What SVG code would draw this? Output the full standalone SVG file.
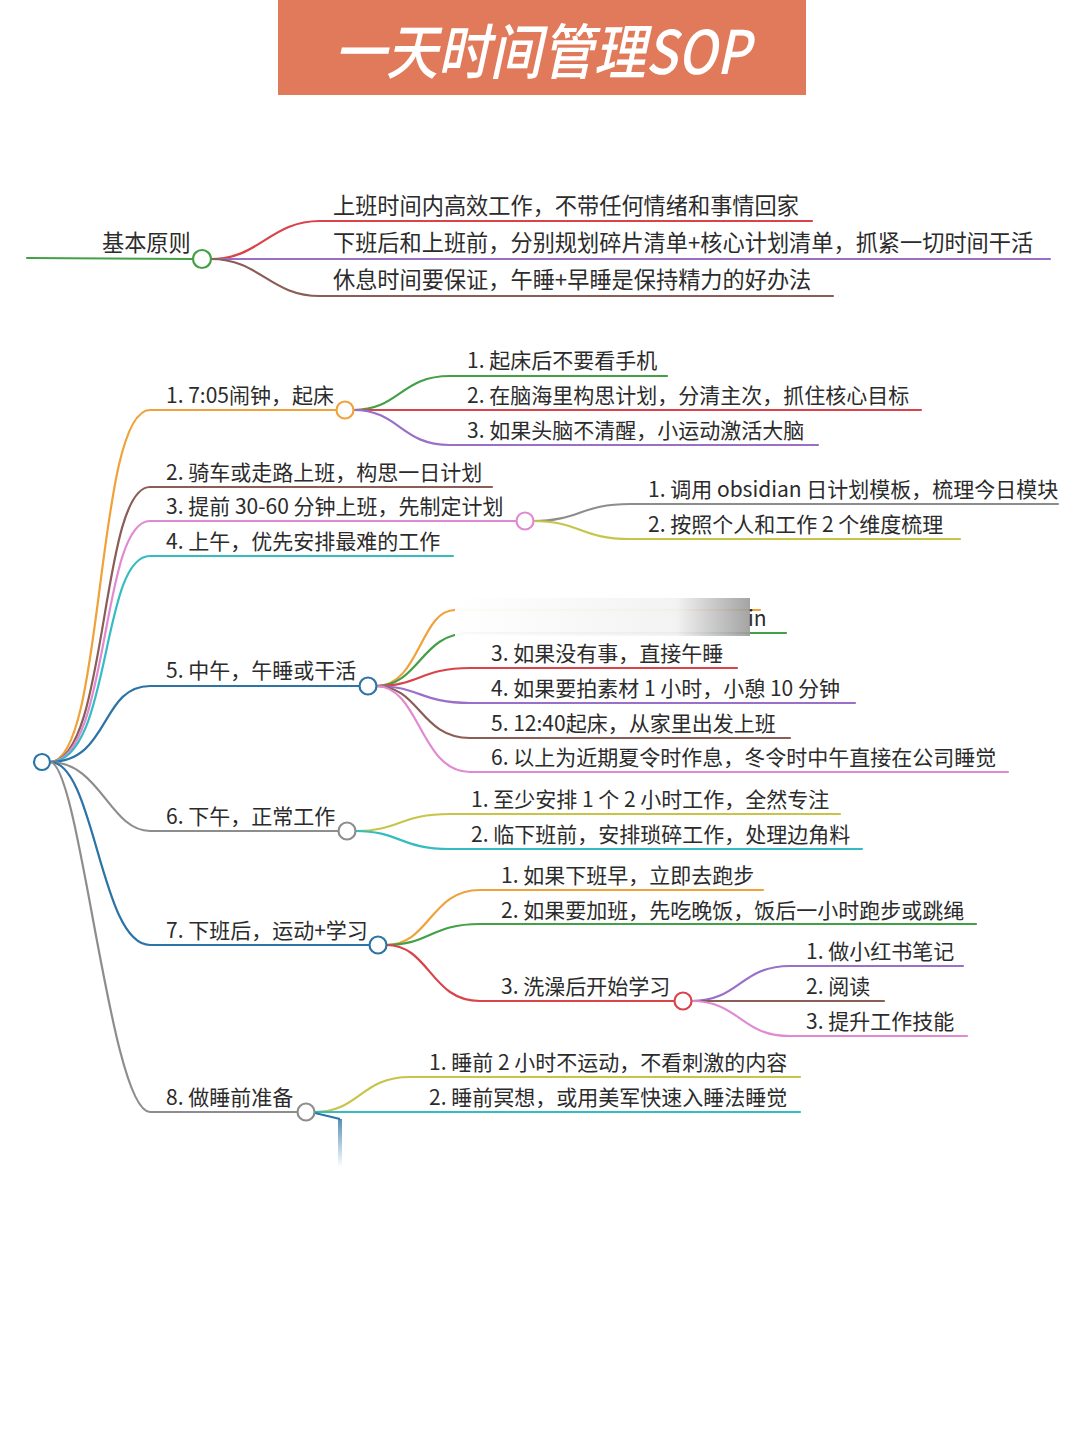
<svg xmlns="http://www.w3.org/2000/svg" width="1080" height="1443" viewBox="0 0 1080 1443">
<defs>
<style>
.t{font-family:"Noto Sans CJK SC","Noto Sans",sans-serif;font-size:21px;fill:#2b2b2b}
.tb{font-family:"Noto Sans CJK SC","Noto Sans",sans-serif;font-size:22.2px;fill:#2b2b2b}
.c{fill:none;stroke-width:2.2;stroke-linecap:round}
.n{fill:#fff;stroke-width:2.2}
.green{stroke:#43a047}.red{stroke:#d9434a}.purple{stroke:#9a6fc9}.brown{stroke:#8a5d55}
.orange{stroke:#f0a23a}.pink{stroke:#e08ad2}.cyan{stroke:#35bcc2}.yellow{stroke:#c8c449}
.gray{stroke:#8d8d8d}.blue{stroke:#2c73a6}
</style>
<linearGradient id="blur" x1="0" x2="1" y1="0" y2="0">
<stop offset="0" stop-color="#ffffff" stop-opacity="0.95"/>
<stop offset="0.75" stop-color="#f2f2f2" stop-opacity="0.95"/>
<stop offset="1" stop-color="#9a9a9a" stop-opacity="0.9"/>
</linearGradient>
<linearGradient id="stub" x1="0" x2="0" y1="0" y2="1">
<stop offset="0" stop-color="#2c73a6" stop-opacity="0.8"/>
<stop offset="1" stop-color="#2c73a6" stop-opacity="0"/>
</linearGradient>
</defs>
<rect width="1080" height="1443" fill="#fff"/>

<g id="title">
<rect x="278" y="0" width="528" height="95" fill="#e17a5a"/>
<text x="542" y="74" text-anchor="middle" font-family="'Noto Sans CJK SC','Noto Sans',sans-serif" font-size="60" font-weight="500" font-style="italic" fill="#fff" textLength="416" lengthAdjust="spacingAndGlyphs">一天时间管理SOP</text>
</g>

<g id="connectors">
<path class="c green" d="M27,258 L193,259"/>
<path class="c red" d="M211,259 C260,259 270,221 320,221 L812,221"/>
<path class="c purple" d="M211,259 L1050,259"/>
<path class="c brown" d="M211,259 C260,259 270,296 320,296 L833,296"/>
<path class="c orange" d="M50,762 C105,762 95,410 150,410 L336,410"/>
<path class="c brown" d="M50,762 C108,762 100,487 150,487 L492,487"/>
<path class="c pink" d="M50,762 C110,762 100,521 150,521 L516,521"/>
<path class="c cyan" d="M50,762 C112,762 100,556 150,556 L453,556"/>
<path class="c blue" d="M50,762 C110,762 100,686 150,686 L359,686"/>
<path class="c gray" d="M50,762 C100,762 110,831 150,831 L338,831"/>
<path class="c blue" d="M50,762 C95,762 100,945 150,945 L369,945"/>
<path class="c gray" d="M50,762 C80,762 110,1112 150,1112 L297,1112"/>
<path class="c green" d="M353,410 C400,410 400,376 450,376 L667,376"/>
<path class="c red" d="M353,410 L921,410"/>
<path class="c purple" d="M353,410 C400,410 400,445 450,445 L818,445"/>
<path class="c gray" d="M533,521 C580,521 580,504 630,504 L1058,504"/>
<path class="c yellow" d="M533,521 C580,521 580,539 630,539 L960,539"/>
<path class="c orange" d="M376,686 C420,686 420,610 455,610 L760,610"/>
<path class="c green" d="M376,686 C420,686 420,633 470,633 L786,633"/>
<path class="c red" d="M376,686 C420,686 420,668 470,668 L737,668"/>
<path class="c purple" d="M376,686 C420,686 420,703 470,703 L855,703"/>
<path class="c brown" d="M376,686 C420,686 420,738 470,738 L790,738"/>
<path class="c pink" d="M376,686 C420,686 420,772 470,772 L1008,772"/>
<path class="c yellow" d="M355,831 C400,831 400,814 450,814 L840,814"/>
<path class="c cyan" d="M355,831 C400,831 400,849 450,849 L862,849"/>
<path class="c orange" d="M386,945 C430,945 430,890 480,890 L763,890"/>
<path class="c green" d="M386,945 C430,945 430,924 480,924 L976,924"/>
<path class="c red" d="M386,945 C430,945 430,1001 480,1001 L674,1001"/>
<path class="c purple" d="M691,1001 C740,1001 740,966 790,966 L963,966"/>
<path class="c brown" d="M691,1001 L884,1001"/>
<path class="c pink" d="M691,1001 C740,1001 740,1036 790,1036 L967,1036"/>
<path class="c yellow" d="M314,1112 C360,1112 360,1077 410,1077 L800,1077"/>
<path class="c cyan" d="M314,1112 L800,1112"/>
<path d="M315,1113 L340,1119" stroke="#2c73a6" stroke-width="2" fill="none"/>
<rect x="338" y="1119" width="4" height="48" fill="url(#stub)"/>
</g>

<rect x="455" y="598" width="295" height="38" fill="url(#blur)"/>

<g id="basic">
<circle class="n green" cx="202" cy="259" r="9"/>
<text class="tb" x="102" y="251">基本原则</text>
<text class="tb" x="333" y="214">上班时间内高效工作，不带任何情绪和事情回家</text>
<text class="tb" x="333" y="251">下班后和上班前，分别规划碎片清单+核心计划清单，抓紧一切时间干活</text>
<text class="tb" x="333" y="288">休息时间要保证，午睡+早睡是保持精力的好办法</text>
</g>

<g id="root"><circle class="n blue" cx="42" cy="762" r="8"/></g>

<g id="n1">
<circle class="n orange" cx="345" cy="410" r="8.5"/>
<text class="t" x="166" y="403">1. 7:05闹钟，起床</text>
<text class="t" x="467" y="368">1. 起床后不要看手机</text>
<text class="t" x="467" y="403">2. 在脑海里构思计划，分清主次，抓住核心目标</text>
<text class="t" x="467" y="438">3. 如果头脑不清醒，小运动激活大脑</text>
</g>
<g id="n2"><text class="t" x="166" y="480">2. 骑车或走路上班，构思一日计划</text></g>
<g id="n3">
<circle class="n pink" cx="525" cy="521" r="8.5"/>
<text class="t" x="166" y="514">3. 提前 30-60 分钟上班，先制定计划</text>
<text class="t" x="648" y="497">1. 调用 obsidian 日计划模板，梳理今日模块</text>
<text class="t" x="648" y="532">2. 按照个人和工作 2 个维度梳理</text>
</g>
<g id="n4"><text class="t" x="166" y="549">4. 上午，优先安排最难的工作</text></g>
<g id="n5">
<circle class="n blue" cx="368" cy="686" r="8.5"/>
<text class="t" x="166" y="678">5. 中午，午睡或干活</text>
<text class="t" x="748" y="626">in</text>
<text class="t" x="491" y="661">3. 如果没有事，直接午睡</text>
<text class="t" x="491" y="696">4. 如果要拍素材 1 小时，小憩 10 分钟</text>
<text class="t" x="491" y="731">5. 12:40起床，从家里出发上班</text>
<text class="t" x="491" y="765">6. 以上为近期夏令时作息，冬令时中午直接在公司睡觉</text>
</g>
<g id="n6">
<circle class="n gray" cx="347" cy="831" r="8.5"/>
<text class="t" x="166" y="824">6. 下午，正常工作</text>
<text class="t" x="471" y="807">1. 至少安排 1 个 2 小时工作，全然专注</text>
<text class="t" x="471" y="842">2. 临下班前，安排琐碎工作，处理边角料</text>
</g>
<g id="n7">
<circle class="n blue" cx="378" cy="945" r="8.5"/>
<text class="t" x="166" y="938">7. 下班后，运动+学习</text>
<text class="t" x="501" y="883">1. 如果下班早，立即去跑步</text>
<text class="t" x="501" y="918">2. 如果要加班，先吃晚饭，饭后一小时跑步或跳绳</text>
<text class="t" x="501" y="994">3. 洗澡后开始学习</text>
<circle class="n red" cx="683" cy="1001" r="8.5"/>
<text class="t" x="806" y="959">1. 做小红书笔记</text>
<text class="t" x="806" y="994">2. 阅读</text>
<text class="t" x="806" y="1029">3. 提升工作技能</text>
</g>
<g id="n8">
<circle class="n gray" cx="306" cy="1112" r="8.5"/>
<text class="t" x="166" y="1105">8. 做睡前准备</text>
<text class="t" x="429" y="1070">1. 睡前 2 小时不运动，不看刺激的内容</text>
<text class="t" x="429" y="1105">2. 睡前冥想，或用美军快速入睡法睡觉</text>
</g>
</svg>
